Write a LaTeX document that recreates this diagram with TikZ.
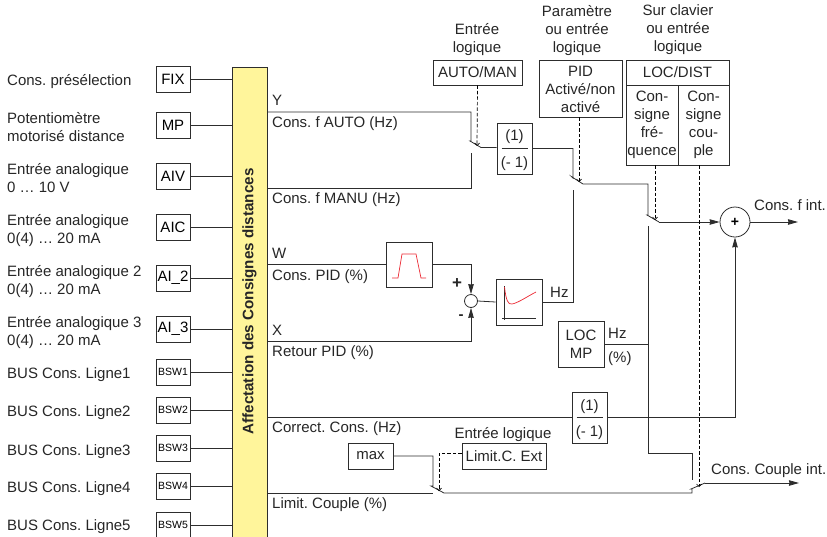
\documentclass[tikz,border=0pt]{standalone}
\usepackage{fontspec}
\setmainfont{Liberation Sans}
\usetikzlibrary{arrows.meta, calc, positioning}
\definecolor{myyellow1}{RGB}{255, 245, 155}
\definecolor{myline1}{RGB}{45, 45, 45}
\definecolor{myred1}{RGB}{235, 40, 50}
\tikzset{
    lbl/.style={font=\frenchspacing\fontsize{15}{18}\selectfont, inner sep=0pt, text=black!85},
    lblw/.style={lbl, anchor=base west},
    lblc/.style={lbl, anchor=base},
    multi/.style={lbl, align=center},
    inbox/.style={draw=myline1, line width=0.8pt, fill=white, minimum width=34pt, minimum height=26pt, inner sep=0pt, font=\fontsize{15}{18}\selectfont},
    wire/.style={draw=myline1, line width=0.8pt},
    wirearrow/.style={wire, -{Stealth[length=10pt, width=5.5pt, inset=0.5pt]}},
    ctrl/.style={draw=black, line width=0.7pt, dashed, dash pattern=on 3.5pt off 2pt, -{Straight Barb[length=2.5pt, width=5pt]}},
}
\begin{document}
\begin{tikzpicture}[x=1pt, y=-1pt]
\useasboundingbox (0,0) rectangle (827,536);
\clip (0,0) rectangle (827,536);
% Affectation bar
\node[draw=myline1, line width=0.8pt, fill=myyellow1, minimum width=35pt, minimum height=500pt, inner sep=0pt, anchor=north west] (bar) at (232,66.5) {};
\node[lbl, rotate=90, font=\frenchspacing\fontsize{15.2}{18}\selectfont\bfseries] (bartxt) at (249.5,301.5) {Affectation des Consignes distances};
% Left inputs
\foreach \nm/\lab/\y in {fix/FIX/79, mp/MP/125, aiv/AIV/176, aic/AIC/227, aideux/AI\_2/278, aitrois/AI\_3/329} {
    \node[inbox] (\nm) at (173,\y) {\lab};
    \draw[wire] (\nm.east) -- (\nm.east -| bar.west);
}
\foreach \nm/\lab/\y in {bswa/BSW1/372, bswb/BSW2/410, bswc/BSW3/448, bswd/BSW4/486, bswe/BSW5/525} {
    \node[inbox, font=\fontsize{10.5}{11}\selectfont] (\nm) at (173,\y) {\lab};
    \draw[wire] (\nm.east) -- (\nm.east -| bar.west);
}
% Left labels
\node[lblw] (tfix) at (7,85) {Cons. présélection};
\node[lblw] (tmpa) at (7,123) {Potentiomètre};
\node[lblw] (tmpb) at (7,141) {motorisé distance};
\node[lblw] (taiva) at (7,174) {Entrée analogique};
\node[lblw] (taivb) at (7,192) {0 … 10 V};
\node[lblw] (taica) at (7,225) {Entrée analogique};
\node[lblw] (taicb) at (7,243) {0(4) … 20 mA};
\node[lblw] (taia) at (7,276) {Entrée analogique 2};
\node[lblw] (taib) at (7,294) {0(4) … 20 mA};
\node[lblw] (taic) at (7,327) {Entrée analogique 3};
\node[lblw] (taid) at (7,345) {0(4) … 20 mA};
\foreach \i/\y in {1/378, 2/416, 3/455, 4/492, 5/530} {
    \node[lblw] (tbus\i) at (7,\y) {BUS Cons. Ligne\i};
}
% Bar outputs labels
\node[lblw] (ty) at (272,105) {Y};
\node[lblw] (tauto) at (272,127) {Cons. f AUTO (Hz)};
\node[lblw] (tmanu) at (272,203) {Cons. f MANU (Hz)};
\node[lblw] (tw) at (272,258) {W};
\node[lblw] (tpid) at (272,280) {Cons. PID (\%)};
\node[lblw] (tx) at (272,335) {X};
\node[lblw] (tret) at (272,356) {Retour PID (\%)};
\node[lblw] (tcor) at (272,432) {Correct. Cons. (Hz)};
\node[lblw] (tlim) at (272,508) {Limit. Couple (\%)};
% Top boxes
\node[multi] (tauto1) at (477,40) {Entrée\\logique};
\node[multi] (tpar) at (577,31) {Paramètre\\ou entrée\\logique};
\node[multi] (tsur) at (678,30) {Sur clavier\\ou entrée\\logique};
\node[draw=myline1, line width=0.8pt, lbl, minimum width=89pt, minimum height=25pt] (automan) at (477.5,72.5) {AUTO/MAN};
\node[draw=myline1, line width=0.8pt, minimum width=83pt, minimum height=57pt] (pidbox) at (580.5,88.5) {};
\node[multi] (tpidbox) at (580.5,89.5) {PID\\Activé/non\\activé};
\node[draw=myline1, line width=0.8pt, lbl, minimum width=103pt, minimum height=25pt] (locdist) at (677.5,72.5) {LOC/DIST};
\node[draw=myline1, line width=0.8pt, multi, minimum width=52pt, minimum height=80pt] (csf) at (652,125) {Con-\\signe\\fré-\\quence};
\node[draw=myline1, line width=0.8pt, multi, minimum width=51pt, minimum height=80pt] (csc) at (703.5,125) {Con-\\signe\\cou-\\ple};
% Inverters
\node[draw=myline1, line width=0.8pt, minimum width=35pt, minimum height=51pt] (inva) at (514.5,148.5) {};
\node[lblc] (inva1) at (514.5,140) {(1)};
\node[lblc] (inva2) at (514.5,167) {(- 1)};
\draw[wire] ($(inva.center)+(-13,0)$) -- ($(inva.center)+(13,0)$);
\node[draw=myline1, line width=0.8pt, minimum width=35pt, minimum height=51pt] (invb) at (589.5,417.5) {};
\node[lblc] (invb1) at (589.5,410) {(1)};
\node[lblc] (invb2) at (589.5,436) {(- 1)};
\draw[wire] ($(invb.center)+(-13,0)$) -- ($(invb.center)+(13,0)$);
% PID chain
\node[draw=myline1, line width=0.8pt, minimum width=46pt, minimum height=45pt] (ramp) at (409,264.5) {};
\draw[myred1, line width=0.7pt] (392,278) -- (398,278) -- (402,254) -- (416,254) -- (421,278) -- (426,278);
\node[draw=myline1, line width=0.8pt, fill=white, circle, minimum size=13pt, inner sep=0pt] (sum) at (471,301) {};
\node[draw=myline1, line width=0.8pt, minimum width=46pt, minimum height=46pt] (reg) at (519,302) {};
\draw[wire] (504,286) -- (504,320);
\draw[wire] (502,318) -- (536,318);
\draw[myred1, line width=0.7pt] (504.5,287) .. controls (506,300) and (508,305) .. (512,304) .. controls (518,303) and (528,296) .. (536,292);
\node[lbl, font=\fontsize{17}{18}\selectfont\bfseries] (tplus) at (457,284) {+};
\node[lbl, font=\fontsize{15}{18}\selectfont\bfseries] (tminus) at (461,317) {-};
\node[lblw] (thz) at (550,297) {Hz};
% LOC MP and limit boxes
\node[draw=myline1, line width=0.8pt, multi, minimum width=46pt, minimum height=46pt] (locmp) at (581,344) {LOC\\MP};
\node[lblw] (thzb) at (608,338) {Hz};
\node[lblw] (tpct) at (608,362) {(\%)};
\node[draw=myline1, line width=0.8pt, lbl, minimum width=45pt, minimum height=26pt] (maxb) at (370.5,456) {max};
\node[draw=myline1, line width=0.8pt, lbl, minimum width=84pt, minimum height=26pt] (limc) at (504,456) {Limit.C. Ext};
\node[lblc] (tel) at (503,438) {Entrée logique};
% Summing point
\node[draw=myline1, line width=0.8pt, circle, minimum size=30pt, inner sep=0pt, font=\fontsize{14}{14}\selectfont\bfseries] (plus) at (735,222) {+};
\node[lblw] (tfint) at (754,210) {Cons. f int.};
\node[lblw] (tcint) at (711,474) {Cons. Couple int.};
% Switches
\coordinate (swaa) at (470,141);
\coordinate (swab) at (481,147.5);
\coordinate (swba) at (572,177);
\coordinate (swbb) at (583,184);
\coordinate (swca) at (647,215);
\coordinate (swcb) at (659,222);
\coordinate (swda) at (431,486);
\coordinate (swdb) at (444,493);
\coordinate (swea) at (691,489);
\coordinate (sweb) at (705,483);
\coordinate (outf) at (798,222);
\coordinate (outc) at (799,483);
% Wires
\draw[wire] (bar.east |- 0,112) -- (471,112) -- (471,141) -- (swaa) -- (swab) -- (inva.west |- swab);
\draw[wire] (bar.east |- 0,188) -- (471,188) -- (471,153);
\draw[wire] (inva.east) -- (573,148.5) -- (573,178) -- (swba) -- (swbb) -- (648,184) -- (648,215) -- (swca) -- (swcb);
\draw[wirearrow] (swcb) -- (plus.west);
\draw[wirearrow] (plus.east) -- (outf);
\draw[wire] (bar.east |- ramp.west) -- (ramp.west);
\draw[wirearrow] (ramp.east) -- (471,264.5) -- (sum.north);
\draw[wirearrow] (bar.east |- 0,341) -- (471,341) -- (sum.south);
\draw[wire] (sum.east) -- (reg.west);
\draw[wire] (reg.east) -- (573,302) -- (573,190);
\draw[wire] (locmp.east) -- (648,344);
\draw[wire] (648,226) -- (648,453) -- (692,453) -- (692,480);
\draw[wire] (bar.east |- invb.west) -- (invb.west);
\draw[wirearrow] (invb.east) -- (735,417.5) -- (plus.south);
\draw[wire] (maxb.east) -- (433,456) -- (433,486) -- (swda) -- (swdb) -- (692,493) -- (692,489) -- (swea) -- (sweb);
\draw[wirearrow] (sweb) -- (outc);
\draw[wire] (bar.east |- 0,493) -- (433,493);
% Dashed controls
\draw[ctrl] (automan.south) -- (477,146);
\draw[ctrl] (579,117) -- (579,182);
\draw[ctrl] (655,165) -- (655,220);
\draw[ctrl] (699,165) -- (699,487);
\draw[ctrl] (limc.west |- 0,453) -- (439,453) -- (439,491);
\end{tikzpicture}
\end{document}
